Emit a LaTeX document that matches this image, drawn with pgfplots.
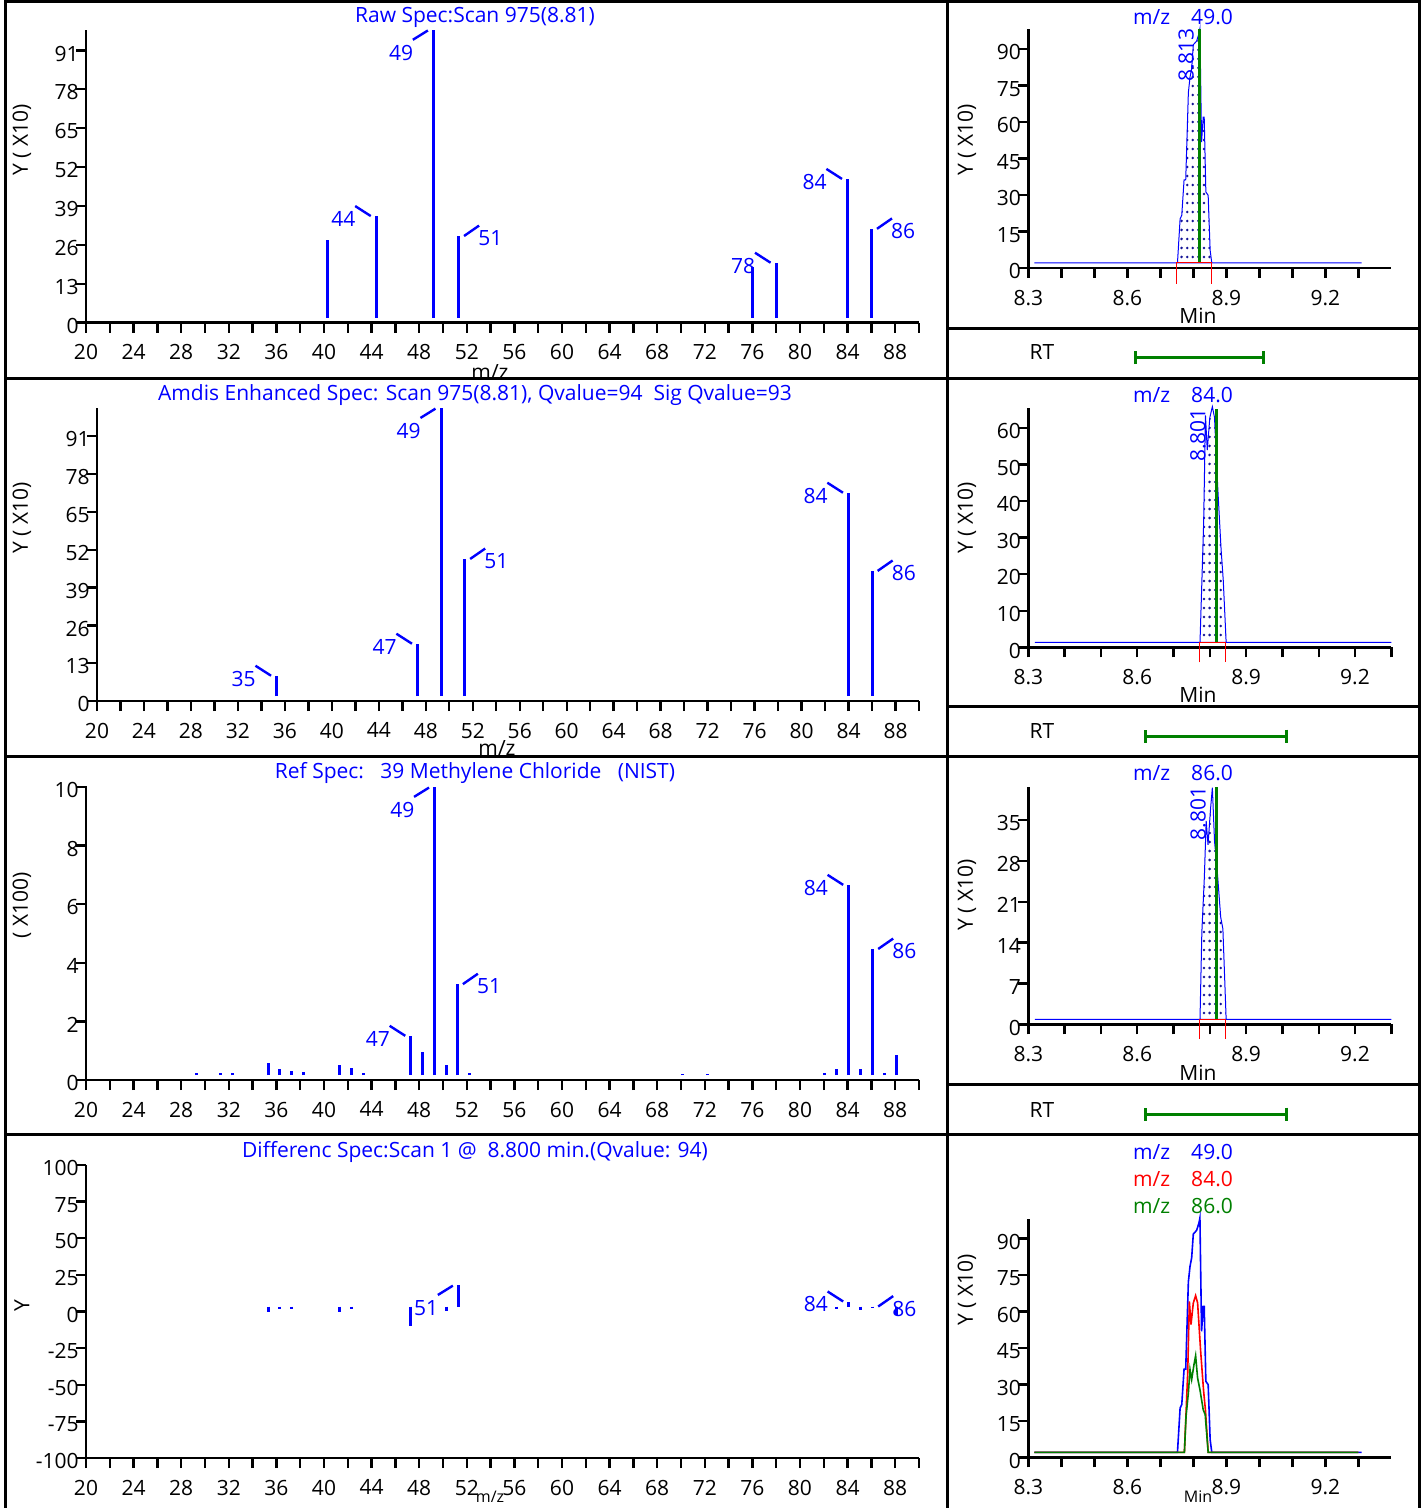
\documentclass[border=0pt]{standalone}
\usepackage{fontspec}
\setmainfont{Open Sans}
\usepackage{pgfplots}
\usepackage{pgfplotstable}
\pgfplotsset{compat=1.18}
\usetikzlibrary{arrows.meta,patterns.meta}
\definecolor{dgreen}{RGB}{0,128,0}
\definecolor{navy}{RGB}{20,20,150}
\newcommand\tf{\fontsize{10.5}{12.6}\selectfont}

\tikzdeclarepattern{
  name=pkdots, type=uncolored,
  bottom left={(-0.9pt,-0.9pt)}, top right={(1.9pt,3.6pt)},
  tile size={(2.8pt,4.5pt)},
  code={\pgfpathcircle{\pgfpointorigin}{0.7pt}\pgfusepath{fill}}
}

% ion traces, values over the trace baseline (x10)
\pgfplotstableread{
t y
8.318 0
8.752 0
8.760 18.2
8.765 19.6
8.772 34.2
8.777 34.2
8.785 70.0
8.790 76.4
8.795 79.9
8.800 89.7
8.810 91.2
8.817 94.2
8.820 96.3
8.825 49.7
8.830 60.0
8.833 60.0
8.838 29.2
8.845 27.8
8.851 5.2
8.856 0
9.310 0
}\mzA
\pgfplotstableread{
t y
8.318 0
8.773 0
8.778 16.2
8.783 32.6
8.788 62.0
8.793 52.5
8.800 61.4
8.807 64.4
8.813 61.4
8.822 42.0
8.831 25.5
8.837 17.0
8.845 0
9.300 0
}\mzB
\pgfplotstableread{
t y
8.318 0
8.773 0
8.778 14.8
8.785 24.4
8.790 34.0
8.795 29.9
8.802 36.0
8.807 39.7
8.813 30.5
8.820 25.8
8.830 17.5
8.836 15.5
8.845 0
9.300 0
}\mzC

\tikzset{lbl/.style={blue, font=\tf, inner sep=0pt}}
\pgfplotsset{
  panel/.style={scale only axis, axis lines=left, axis line style={-, line width=1.4pt},
    enlargelimits=false, clip=false, tick align=outside,
    major tick length=5pt, minor tick length=5pt,
    tick style={black, line width=1.2pt},
    tick label style={font=\tf, inner sep=0pt},
    xticklabel style={yshift=-5.75pt}, yticklabel style={xshift=1.5pt, yshift=-1.6pt},
    /pgf/number format/assume math mode=true},
  mass/.style={panel, width=416.5pt, xmin=20, xmax=90,
    xtick={20,24,...,88}, minor xtick={22,26,...,90}},
  chrom/.style={panel, width=181.5pt, xmin=8.3,
    xtick={8.3,8.6,8.9,9.2}, minor xtick={8.4,8.5,8.7,8.8,9.0,9.1,9.3},
    xticklabel style={/pgf/number format/.cd, fixed, fixed zerofill, precision=1}},
  stick/.style={blue, line width=1.5pt, ycomb, yshift=2.5pt},
  peak/.style={blue, line width=0.5pt, pattern=pkdots, pattern color=navy, yshift=2.5pt},
}
% peak labels: left, right, below-left of the peak top
\newcommand\lblL[3]{%
  \draw[blue, line width=1.2pt] ([shift={(-2.8pt,2.6pt)}]axis cs:#1,#2) -- ([shift={(-10.6pt,7.6pt)}]axis cs:#1,#2);
  \node[lbl] at ([shift={(-16.5pt,1.2pt)}]axis cs:#1,#2) {#3};}
\newcommand\lblR[3]{%
  \draw[blue, line width=1.2pt] ([shift={(2.8pt,2.5pt)}]axis cs:#1,#2) -- ([shift={(10.3pt,7.7pt)}]axis cs:#1,#2);
  \node[lbl] at ([shift={(15.9pt,1.5pt)}]axis cs:#1,#2) {#3};}
\newcommand\lblB[3]{%
  \draw[blue, line width=1.2pt] ([shift={(-2.8pt,2.15pt)}]axis cs:#1,#2) -- ([shift={(-10.3pt,-2.5pt)}]axis cs:#1,#2);
  \node[lbl] at ([shift={(-16.2pt,-9.2pt)}]axis cs:#1,#2) {#3};}

\begin{document}
\begin{tikzpicture}
\useasboundingbox (0,0) rectangle (713pt,-754pt);

% ---- left column: spectra ----
\begin{axis}[mass, at={(43pt,-161.35pt)}, anchor=south west, height=146.35pt,
  ymin=0, ymax=97.8, ytick={0,13,...,91}]
\addplot[stick] coordinates {(40.3,25.9) (44.4,33.9) (49.2,96.2) (51.3,27.3)
  (76.0,17.0) (78.0,18.3) (84.0,46.3) (86.0,29.7)};
\lblL{44.4}{33.9}{44} \lblB{49.2}{96.2}{49} \lblR{51.3}{27.3}{51}
\lblL{78.0}{18.3}{78} \lblL{84.0}{46.3}{84} \lblR{86.0}{29.7}{86}
\end{axis}

\begin{axis}[mass, at={(48.5pt,-350.5pt)}, anchor=south west, width=411pt, height=146.5pt,
  ymin=0, ymax=100.7, ytick={0,13,...,91}]
\addplot[stick] coordinates {(35.3,6.9) (47.3,17.9) (49.3,99.0) (51.3,47.1)
  (84.0,69.8) (86.0,43.0)};
\lblL{35.3}{6.9}{35} \lblL{47.3}{17.9}{47} \lblB{49.3}{99.0}{49}
\lblR{51.3}{47.1}{51} \lblL{84.0}{69.8}{84} \lblR{86.0}{43.0}{86}
\end{axis}

\begin{axis}[mass, at={(43pt,-540pt)}, anchor=south west, height=147pt,
  ymin=0, ymax=10.03, ytick={0,2,...,10}]
\addplot[stick] coordinates {(29.3,0.07) (31.3,0.07) (32.3,0.07) (35.3,0.42)
  (36.3,0.21) (37.3,0.14) (38.3,0.09) (41.3,0.35) (42.3,0.23) (43.3,0.07)
  (47.3,1.33) (48.3,0.77) (49.3,9.83) (50.3,0.34) (51.2,3.1) (52.2,0.07)
  (70.1,0.05) (72.2,0.05) (82.1,0.08) (83.1,0.21) (84.1,6.48) (85.1,0.2)
  (86.1,4.3) (87.1,0.08) (88.1,0.68)};
\lblL{47.3}{1.33}{47} \lblB{49.3}{9.83}{49} \lblR{51.2}{3.1}{51}
\lblL{84.1}{6.48}{84} \lblR{86.1}{4.3}{86}
\end{axis}

\begin{axis}[mass, at={(43pt,-729pt)}, anchor=south west, height=146.5pt,
  ymin=-100, ymax=100, ytick={-100,-75,...,100},
  yticklabels={-100,-75,-50,-25,0,25,50,75,100}]
\addplot[stick] coordinates {(35.3,-4) (36.3,-2) (37.3,-1.5) (41.3,-3.5) (42.3,-2)
  (47.3,-13) (50.3,-3) (51.3,14.7) (83.1,-2) (84.1,3.3) (85.1,-2.5)
  (86.1,-1) (88.1,-5.5)};
\lblB{51.3}{14.7}{51} \lblL{84.1}{3.3}{84} \lblR{86.1}{0}{86}
\end{axis}

% ---- right column: ion chromatograms ----
\begin{axis}[chrom, at={(514.15pt,-134pt)}, anchor=south west, height=119.35pt,
  xmax=9.4, ymin=0, ymax=98.1, ytick={0,15,...,90}]
\addplot[peak] table {\mzA} -- cycle;
\addplot[dgreen, line width=1.5pt, yshift=2.5pt] coordinates {(8.820,0) (8.820,96.3)};
\addplot[red, line width=0.5pt, yshift=2.5pt] coordinates {(8.748,-8.5) (8.748,0) (8.856,0) (8.856,-8.5)};
\node[lbl, rotate=90] at (axis cs:8.778,87.5) {8.813};
\end{axis}

\begin{axis}[chrom, at={(514.15pt,-323.65pt)}, anchor=south west, height=119.65pt,
  xmax=9.3, ymin=0, ymax=65.4, ytick={0,10,...,60}]
\addplot[peak] table {\mzB} -- cycle;
\addplot[dgreen, line width=1.5pt, yshift=2.5pt] coordinates {(8.819,0) (8.819,63.7)};
\addplot[red, line width=0.5pt, yshift=2.5pt] coordinates {(8.771,-5.5) (8.771,0) (8.842,0) (8.842,-5.5)};
\node[lbl, rotate=90] at (axis cs:8.767,58) {8.801};
\end{axis}

\begin{axis}[chrom, at={(514.15pt,-512.15pt)}, anchor=south west, height=118.8pt,
  xmax=9.3, ymin=0, ymax=40.7, ytick={0,7,...,35}]
\addplot[peak] table {\mzC} -- cycle;
\addplot[dgreen, line width=1.5pt, yshift=2.5pt] coordinates {(8.819,0) (8.819,39.8)};
\addplot[red, line width=0.5pt, yshift=2.5pt] coordinates {(8.771,-3.4) (8.771,0) (8.842,0) (8.842,-3.4)};
\node[lbl, rotate=90] at (axis cs:8.768,36.1) {8.801};
\end{axis}

\begin{axis}[chrom, at={(514.15pt,-728.65pt)}, anchor=south west, height=119pt,
  xmax=9.4, ymin=0, ymax=97.8, ytick={0,15,...,90}]
\addplot[blue, line width=0.8pt, yshift=2.5pt] table {\mzA};
\addplot[red, line width=0.8pt, yshift=2.5pt] table {\mzB};
\addplot[dgreen, line width=0.8pt, yshift=2.5pt] table {\mzC};
\end{axis}

% ---- texts and frames, in reference pixels ----
\begin{scope}[x=0.5pt, y=-0.5pt, font=\tf]
\node[blue] at (475,17) {Raw Spec:Scan 975(8.81)};
\node[blue] at (475,395) {Amdis Enhanced Spec: Scan 975(8.81), Qvalue=94\ \ Sig Qvalue=93};
\node[blue] at (475,773) {Ref Spec:\ \ \ 39 Methylene Chloride\ \ \ (NIST)};
\node[blue] at (475,1152) {Differenc Spec:Scan 1 @\ \ 8.800 min.(Qvalue: 94)};
\node[blue] at (1183,17) {m/z\quad 49.0};
\node[blue] at (1183,395) {m/z\quad 84.0};
\node[blue] at (1183,773) {m/z\quad 86.0};
\node[blue] at (1183,1152) {m/z\quad 49.0};
\node[red] at (1183,1179) {m/z\quad 84.0};
\node[dgreen] at (1183,1206) {m/z\quad 86.0};

\node[rotate=90] at (22,140) {Y ( X10)};
\node[rotate=90] at (22,518) {Y ( X10)};
\node[rotate=90] at (22,905) {( X100)};
\node[rotate=90] at (22,1306) {Y};
\node[rotate=90] at (967,140) {Y ( X10)};
\node[rotate=90] at (967,518) {Y ( X10)};
\node[rotate=90] at (967,895) {Y ( X10)};
\node[rotate=90] at (967,1290) {Y ( X10)};

\node at (490,372) {m/z};
\node at (497,748) {m/z};
\node[anchor=base, inner sep=0pt, font=\fontsize{8}{9}\selectfont] at (490,1502) {m/z};
\node at (1198,316) {Min};
\node at (1198,695) {Min};
\node at (1198,1073) {Min};
\node[anchor=base, inner sep=0pt, font=\fontsize{8}{9}\selectfont] at (1198,1502) {Min};

\node at (1042,352) {RT};
\node at (1042,731) {RT};
\node at (1042,1110) {RT};
\draw[dgreen, line width=1.5pt, {Bar[width=6.5pt]}-{Bar[width=6.5pt]}] (1134,357.5) -- (1265,357.5);
\draw[dgreen, line width=1.5pt, {Bar[width=6.5pt]}-{Bar[width=6.5pt]}] (1144,736) -- (1288,736);
\draw[dgreen, line width=1.5pt, {Bar[width=6.5pt]}-{Bar[width=6.5pt]}] (1144,1114) -- (1288,1114);

\draw[line width=1.5pt] (5.5,0) -- (5.5,1508) (1419,0) -- (1419,1508) (947.5,0) -- (947.5,1508)
  (5.5,1.5) -- (1419,1.5) (5.5,378.5) -- (1419,378.5) (5.5,756.5) -- (1419,756.5)
  (5.5,1134.5) -- (1419,1134.5)
  (947.5,328.5) -- (1419,328.5) (947.5,706.5) -- (1419,706.5) (947.5,1084.5) -- (1419,1084.5);
\end{scope}
\end{tikzpicture}
\end{document}
